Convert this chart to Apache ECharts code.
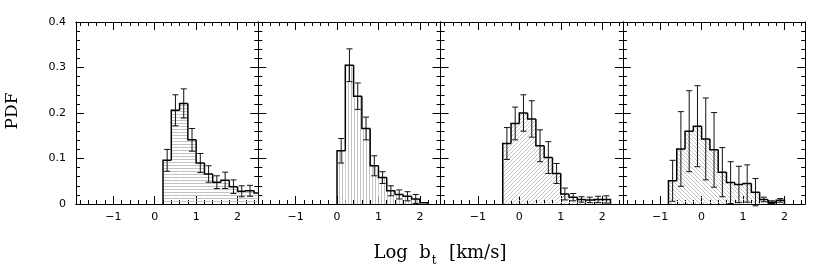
<!DOCTYPE html>
<html><head><meta charset="utf-8">
<script src="https://cdn.jsdelivr.net/npm/echarts@6/dist/echarts.min.js"></script>
<style>html,body{margin:0;padding:0;background:#fff}#c{width:817px;height:273px}</style>
</head><body><div id="c"></div>
<script>
// ---- data ----
const BIN = 0.2;
const p1Start = 0.2;
const p1Vals = [0.096, 0.206, 0.221, 0.141, 0.090, 0.066, 0.048, 0.052, 0.038, 0.028, 0.029, 0.024];
const p1Errs = [0.024, 0.034, 0.032, 0.025, 0.021, 0.018, 0.014, 0.018, 0.015, 0.012, 0.012, 0.010];
const p2Start = 0.0;
const p2Vals = [0.117, 0.305, 0.237, 0.166, 0.084, 0.058, 0.029, 0.021, 0.017, 0.011, 0.003];
const p2Errs = [0.027, 0.036, 0.029, 0.025, 0.022, 0.013, 0.011, 0.010, 0.010, 0.010, 0.000];
const p3Start = -0.4;
const p3Vals = [0.133, 0.177, 0.200, 0.187, 0.128, 0.102, 0.067, 0.022, 0.015, 0.010, 0.009, 0.010, 0.010];
const p3Errs = [0.035, 0.036, 0.040, 0.040, 0.035, 0.035, 0.022, 0.013, 0.008, 0.006, 0.006, 0.007, 0.008];
const p4Start = -0.8;
const p4Vals = [0.051, 0.121, 0.160, 0.171, 0.143, 0.119, 0.070, 0.047, 0.043, 0.045, 0.026, 0.010, 0.004, 0.008];
const p4Errs = [0.045, 0.082, 0.089, 0.089, 0.090, 0.082, 0.054, 0.046, 0.040, 0.041, 0.030, 0.005, 0.003, 0.004];
const xMajorTicks = [-1, 0, 1, 2];
const xMinorTicks = [-1.8, -1.6, -1.4, -1.2, -0.8, -0.6, -0.4, -0.2, 0.2, 0.4, 0.6, 0.8, 1.2, 1.4, 1.6, 1.8, 2.2, 2.4];
const yTickLabels = ['0', '0.1', '0.2', '0.3', '0.4'];
const X_MIN = -1.9, X_MAX = 2.5, Y_MIN = 0, Y_MAX = 0.4, Y_STEP = 0.1;
const xTitle = 'Log  b';
const xTitleSub = 't';
const xTitleUnit = '  [km/s]';
const yTitle = 'PDF';

// ---- hatch patterns ----
const HATCH = '#c2c2c2';
function makePattern(kind) {
  const c = document.createElement('canvas');
  const ctx = c.getContext('2d');
  if (kind === 'h') { c.width = 4; c.height = 3; ctx.fillStyle = HATCH; ctx.fillRect(0, 0, 4, 1); }
  else if (kind === 'v') { c.width = 3; c.height = 4; ctx.fillStyle = HATCH; ctx.fillRect(0, 0, 1, 4); }
  else {
    c.width = 4; c.height = 4; ctx.strokeStyle = HATCH; ctx.lineWidth = 1;
    ctx.beginPath();
    if (kind === 'd') {
      ctx.moveTo(0, 4); ctx.lineTo(4, 0);
      ctx.moveTo(-1, 1); ctx.lineTo(1, -1);
      ctx.moveTo(3, 5); ctx.lineTo(5, 3);
    } else {
      ctx.moveTo(0, 0); ctx.lineTo(4, 4);
      ctx.moveTo(-1, 3); ctx.lineTo(1, 5);
      ctx.moveTo(3, -1); ctx.lineTo(5, 1);
    }
    ctx.stroke();
  }
  return { image: c, repeat: 'repeat' };
}

const panels = [
  { start: p1Start, vals: p1Vals, errs: p1Errs, hatch: 'h' },
  { start: p2Start, vals: p2Vals, errs: p2Errs, hatch: 'v' },
  { start: p3Start, vals: p3Vals, errs: p3Errs, hatch: 'd' },
  { start: p4Start, vals: p4Vals, errs: p4Errs, hatch: 'b' }
];

const GRID_LEFT = 76, GRID_W = 182.3, GRID_TOP = 22, GRID_H = 182;
const grids = [], xAxes = [], yAxes = [], series = [];

function xAx(g, pos, major) {
  return {
    type: 'value', gridIndex: g, position: pos, min: X_MIN, max: X_MAX,
    axisLine: { show: true, onZero: false, lineStyle: { color: '#000', width: 1 } },
    axisTick: { show: true, inside: true, length: major ? 8 : 4, customValues: major ? xMajorTicks : xMinorTicks, lineStyle: { color: '#000', width: 1 } },
    axisLabel: { show: major && pos === 'bottom', customValues: xMajorTicks, margin: 8, color: '#000', fontFamily: 'DejaVu Sans', fontSize: 11,
      formatter: v => String(v).replace('-', '\u2212') },
    splitLine: { show: false }
  };
}
function yAx(g, pos) {
  return {
    type: 'value', gridIndex: g, position: pos, min: Y_MIN, max: Y_MAX, interval: Y_STEP,
    axisLine: { show: true, onZero: false, lineStyle: { color: '#000', width: 1 } },
    axisTick: { show: true, inside: true, length: 8, lineStyle: { color: '#000', width: 1 } },
    minorTick: { show: true, splitNumber: 5, length: 4, lineStyle: { color: '#000', width: 1 } },
    axisLabel: { show: g === 0 && pos === 'left', margin: 10, color: '#000', fontFamily: 'DejaVu Sans', fontSize: 11,
      formatter: v => yTickLabels[Math.round(v / Y_STEP)] },
    splitLine: { show: false }, minorSplitLine: { show: false }
  };
}

panels.forEach((p, g) => {
  grids.push({ left: GRID_LEFT + g * GRID_W, top: GRID_TOP, width: GRID_W, height: GRID_H, containLabel: false });
  xAxes.push(xAx(g, 'bottom', true), xAx(g, 'bottom', false), xAx(g, 'top', true), xAx(g, 'top', false));
  yAxes.push(yAx(g, 'left'), yAx(g, 'right'));
  const pattern = makePattern(p.hatch);
  const data = p.vals.map((v, i) => [p.start + i * BIN, v, i === 0 ? 0 : p.vals[i - 1], i === p.vals.length - 1 ? 1 : 0]);
  const errData = p.vals.map((v, i) => [p.start + i * BIN + BIN / 2, v, p.errs[i]]);
  const base = { type: 'custom', xAxisIndex: 4 * g, yAxisIndex: 2 * g, encode: { x: 0, y: 1 }, silent: true, animation: false };
  series.push(Object.assign({}, base, {
    data: data, z: 2,
    renderItem: function (params, api) {
      const x0 = api.value(0), y = api.value(1);
      let x1 = x0 + BIN; if (x1 > X_MAX) x1 = X_MAX;
      const a = api.coord([x0, 0]), b = api.coord([x1, y]);
      return { type: 'rect', shape: { x: a[0], y: b[1], width: b[0] - a[0], height: a[1] - b[1] }, style: { fill: pattern } };
    }
  }));
  series.push(Object.assign({}, base, {
    data: errData, z: 3,
    renderItem: function (params, api) {
      const xc = api.value(0), y = api.value(1), e = api.value(2);
      if (!(e > 0) || xc > X_MAX) return null;
      const lo = api.coord([xc, y - e]), hi = api.coord([xc, y + e]);
      const hw = 3;
      const st = { stroke: '#111', lineWidth: 1, fill: null };
      return { type: 'group', children: [
        { type: 'line', shape: { x1: lo[0], y1: lo[1], x2: hi[0], y2: hi[1] }, style: st },
        { type: 'line', shape: { x1: lo[0] - hw, y1: lo[1], x2: lo[0] + hw, y2: lo[1] }, style: st },
        { type: 'line', shape: { x1: hi[0] - hw, y1: hi[1], x2: hi[0] + hw, y2: hi[1] }, style: st }
      ] };
    }
  }));
  series.push(Object.assign({}, base, {
    data: data, z: 4,
    renderItem: function (params, api) {
      const x0 = api.value(0), y = api.value(1), prev = api.value(2), last = api.value(3);
      let x1 = x0 + BIN; let clipped = false;
      if (x1 > X_MAX) { x1 = X_MAX; clipped = true; }
      const a = api.coord([x0, 0]), b = api.coord([x1, y]), c = api.coord([x0, prev]);
      const pts = [c, [a[0], b[1]], b];
      if (last && !clipped) pts.push([b[0], a[1]]);
      return { type: 'polyline', shape: { points: pts }, style: { stroke: '#000', lineWidth: 1.5, fill: null } };
    }
  }));
});

const chart = echarts.init(document.getElementById('c'), null, { renderer: 'canvas' });
chart.setOption({
  backgroundColor: '#fff',
  animation: false,
  grid: grids, xAxis: xAxes, yAxis: yAxes, series: series,
  graphic: [
    { type: 'text', x: 13, y: 111, rotation: Math.PI / 2,
      style: { text: yTitle, font: '17px "DejaVu Serif"', fill: '#000', align: 'center', verticalAlign: 'middle', textAlign: 'center', textVerticalAlign: 'middle' } },
    { type: 'text', x: 440, y: 253,
      style: { text: '{a|' + xTitle + '}{b|' + xTitleSub + '}{a|' + xTitleUnit + '}', fill: '#000',
        align: 'center', verticalAlign: 'middle', textAlign: 'center', textVerticalAlign: 'middle',
        rich: { a: { fontFamily: 'DejaVu Serif', fontSize: 18, lineHeight: 28, fill: '#000', color: '#000' },
                b: { fontFamily: 'DejaVu Serif', fontSize: 12, verticalAlign: 'bottom', fill: '#000', color: '#000', padding: [0, 1, 0, 1] } } } }
  ]
});
</script></body></html>
